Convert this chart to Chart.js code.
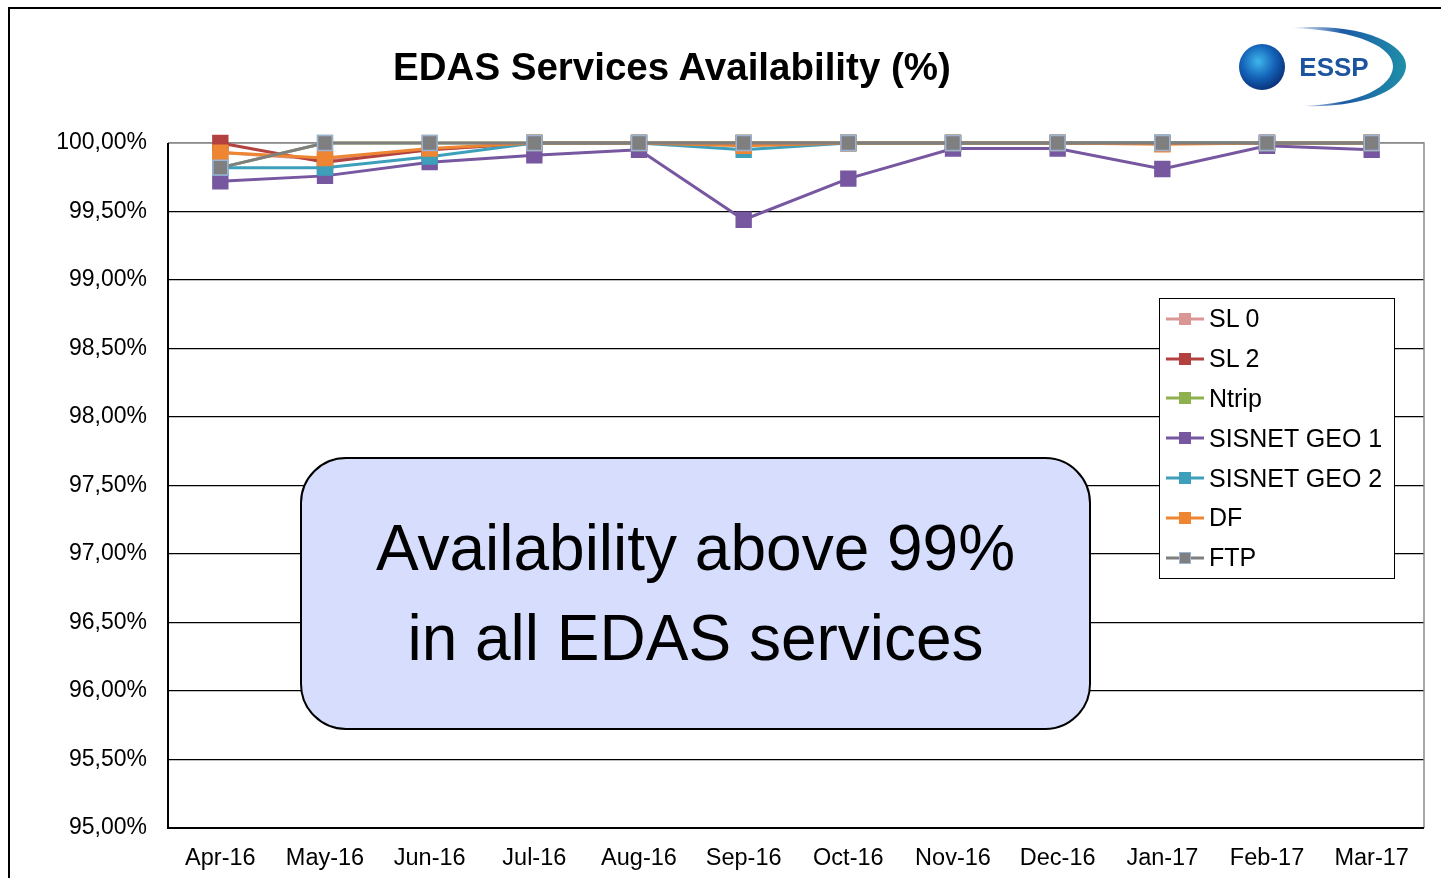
<!DOCTYPE html>
<html>
<head>
<meta charset="utf-8">
<title>EDAS Services Availability</title>
<script src="https://cdn.jsdelivr.net/npm/chart.js@4.4.1/dist/chart.umd.min.js"></script>
<style>
    html, body { margin: 0; padding: 0; background: #fff; }
    body { width: 1441px; height: 878px; overflow: hidden; position: relative; font-family: Arial, "Liberation Sans", sans-serif; }
    #frame { position: absolute; left: 8px; top: 7px; width: 1440px; height: 880px; border-left: 2px solid #000; border-top: 2px solid #000; box-sizing: border-box; }
    #chartCanvas { position: absolute; left: 0; top: 0; }
    #title { position: absolute; left: 272px; width: 800px; top: 45px; text-align: center; font-weight: bold; font-size: 38.5px; color: #000; }
    #logo { position: absolute; left: 1230px; top: 20px; }
    #callout { position: absolute; left: 300px; top: 457px; width: 791px; height: 273px; box-sizing: border-box;
               border: 2px solid #000; border-radius: 46px; background: #d7defd;
               font-size: 64px; color: #000; text-align: center; line-height: 90px; padding-top: 44px; }
    #legend { position: absolute; left: 1159px; top: 298px; width: 236px; height: 281px; box-sizing: border-box;
              border: 1.5px solid #000; background: #fff; padding-top: 0px; }
    .item { height: 39.8px; display: flex; align-items: center; font-size: 25px; color: #000; }
    .item canvas { margin-left: 6px; margin-right: 5px; }
</style>
</head>
<body>
<div id="frame"></div>
<canvas id="chartCanvas" width="1441" height="878"></canvas>
<div id="title">EDAS Services Availability (%)</div>
<svg id="logo" width="190" height="95" viewBox="0 0 190 95">
    <defs>
        <radialGradient id="ball" cx="0.42" cy="0.38" r="0.65">
            <stop offset="0" stop-color="#3fb6ec"/>
            <stop offset="0.55" stop-color="#1463b8"/>
            <stop offset="1" stop-color="#0b2f78"/>
        </radialGradient>
        <linearGradient id="swoosh" x1="0" y1="0" x2="1" y2="0">
            <stop offset="0" stop-color="#ffffff"/>
            <stop offset="0.45" stop-color="#1c5aa6"/>
            <stop offset="1" stop-color="#1f8fa8"/>
        </linearGradient>
    </defs>
    <path d="M 60 8 C 140 2 178 28 176 47 C 174 68 140 88 72 86 C 132 84 162 66 163 47 C 164 28 130 10 60 8 Z" fill="url(#swoosh)"/>
    <circle cx="32" cy="47" r="23" fill="url(#ball)"/>
    <text x="104" y="56" text-anchor="middle" font-family="Arial, sans-serif" font-weight="900" font-size="26" fill="#1d54a0">ESSP</text>
</svg>
<div id="callout">Availability above 99%<br>in all EDAS services</div>
<div id="legend"></div>

<script>
// chart data
const months = ['Apr-16', 'May-16', 'Jun-16', 'Jul-16', 'Aug-16', 'Sep-16', 'Oct-16', 'Nov-16', 'Dec-16', 'Jan-17', 'Feb-17', 'Mar-17'];
const seriesNames = ['SL 0', 'SL 2', 'Ntrip', 'SISNET GEO 1', 'SISNET GEO 2', 'DF', 'FTP'];

const sl0 = [99.93, 99.88, 99.95, 100, 100, 100, 100, 100, 100, 100, 100, 100];
const sl2 = [100.00, 99.86, 99.95, 100, 100, 100, 100, 100, 100, 100, 100, 100];
const ntrip = [99.82, 100, 100, 100, 100, 100, 100, 100, 100, 100, 100, 100];
const sisnetGeo1 = [99.72, 99.76, 99.86, 99.91, 99.95, 99.44, 99.74, 99.96, 99.96, 99.81, 99.98, 99.95];
const sisnetGeo2 = [99.82, 99.82, 99.90, 100, 100, 99.95, 100, 100, 100, 100, 100, 100];
const df = [99.93, 99.89, 99.96, 100, 100, 99.98, 100, 100, 100, 99.99, 100, 100];
const ftp = [99.82, 100, 100, 100, 100, 100, 100, 100, 100, 100, 100, 100];

const yTicks = [95, 95.5, 96, 96.5, 97, 97.5, 98, 98.5, 99, 99.5, 100];

const lineColors = ['#d99694', '#b3413f', '#8fb04e', '#7657a0', '#3e9fba', '#ee8532', '#7f7f7f'];
const markerBorders = ['#d99694', '#b3413f', '#8fb04e', '#7657a0', '#3e9fba', '#ee8532', '#9bb4d8'];
const allValues = [sl0, sl2, ntrip, sisnetGeo1, sisnetGeo2, df, ftp];

// plot frame: gray box, black left and bottom axis
const framePlugin = {
    id: 'plotFrame',
    beforeDatasetsDraw(chart) {
        const a = chart.chartArea;
        const ctx = chart.ctx;
        ctx.save();
        ctx.lineWidth = 1.5;
        ctx.strokeStyle = '#8c8c8c';
        ctx.beginPath();
        ctx.moveTo(a.left, a.top);
        ctx.lineTo(a.right, a.top);
        ctx.lineTo(a.right, a.bottom);
        ctx.stroke();
        ctx.strokeStyle = '#000';
        ctx.lineWidth = 2;
        ctx.beginPath();
        ctx.moveTo(a.left, a.top);
        ctx.lineTo(a.left, a.bottom);
        ctx.lineTo(a.right, a.bottom);
        ctx.stroke();
        ctx.restore();
    }
};

const datasets = seriesNames.map((name, i) => ({
    label: name,
    data: allValues[i],
    borderColor: lineColors[i],
    backgroundColor: lineColors[i],
    borderWidth: 3,
    pointStyle: 'rect',
    pointRadius: 10.5,
    pointBackgroundColor: lineColors[i],
    pointBorderColor: markerBorders[i],
    pointBorderWidth: 1.5,
    tension: 0,
    clip: false,
    order: seriesNames.length - i
}));

const chart = new Chart(document.getElementById('chartCanvas'), {
    type: 'line',
    data: { labels: months, datasets: datasets },
    options: {
        responsive: false,
        animation: false,
        layout: { padding: { top: 143, right: 17, left: 0, bottom: 0 } },
        plugins: {
            legend: { display: false },
            title: { display: false },
            tooltip: { enabled: false }
        },
        scales: {
            x: {
                offset: true,
                grid: { display: false, drawTicks: false },
                border: { display: false },
                ticks: { color: '#000', font: { size: 23.5, family: 'Arial' }, padding: 16, maxRotation: 0, autoSkip: false },
                afterFit(scale) { scale.height = 50; }
            },
            y: {
                min: 95,
                max: 100,
                afterBuildTicks(scale) { scale.ticks = yTicks.map(v => ({ value: v })); },
                grid: {
                    drawTicks: false,
                    color: ctx => (ctx.tick && ctx.tick.value === 100 ? '#8c8c8c' : '#000'),
                    lineWidth: 1.2
                },
                border: { display: false },
                ticks: {
                    color: '#000',
                    font: { size: 23, family: 'Arial' },
                    padding: 21,
                    callback: v => v.toFixed(2).replace('.', ',') + '%'
                },
                afterFit(scale) { scale.width = 168; }
            }
        }
    },
    plugins: [framePlugin]
});

// legend box with line + square marker samples
const legendBox = document.getElementById('legend');
seriesNames.forEach((name, i) => {
    const row = document.createElement('div');
    row.className = 'item';
    const c = document.createElement('canvas');
    c.width = 38; c.height = 20;
    const g = c.getContext('2d');
    g.strokeStyle = lineColors[i];
    g.lineWidth = 3;
    g.beginPath(); g.moveTo(0, 10); g.lineTo(38, 10); g.stroke();
    g.fillStyle = lineColors[i];
    g.fillRect(13, 4, 12, 12);
    g.strokeStyle = markerBorders[i];
    g.lineWidth = 1;
    g.strokeRect(13.5, 4.5, 11, 11);
    row.appendChild(c);
    const t = document.createElement('span');
    t.textContent = name;
    row.appendChild(t);
    legendBox.appendChild(row);
});
</script>
</body>
</html>
